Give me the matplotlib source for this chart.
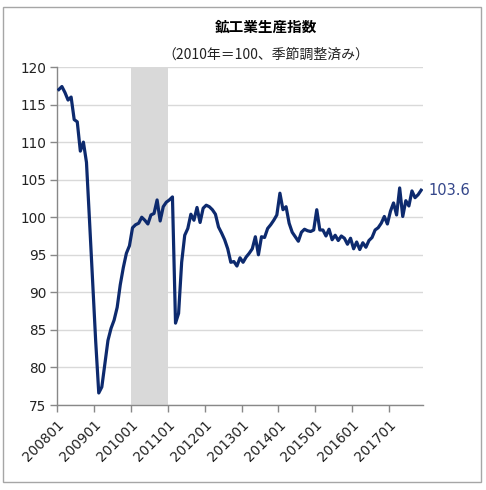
import numpy as np
import matplotlib
matplotlib.use("Agg")
import matplotlib.pyplot as plt
from matplotlib.patches import Rectangle

plt.rcParams['font.family'] = ['DejaVu Sans', 'Noto Sans CJK JP']

# monthly index, 2008-01 .. 2017-11 (2010=100, seasonally adjusted)
y2008 = [117.0, 117.4, 116.6, 115.6, 116.0, 113.0, 112.7, 108.8, 110.0, 107.3, 99.5, 91.5]
y2009 = [83.5, 76.6, 77.4, 80.5, 83.6, 85.2, 86.3, 88.0, 91.0, 93.3, 95.2, 96.2]
y2010 = [98.6, 99.0, 99.2, 100.0, 99.6, 99.1, 100.3, 100.5, 102.3, 99.5, 101.4, 102.0]
y2011 = [102.3, 102.7, 85.9, 87.2, 94.0, 97.6, 98.5, 100.4, 99.6, 101.3, 99.3, 101.2]
y2012 = [101.6, 101.4, 101.0, 100.4, 98.7, 97.9, 97.0, 95.8, 94.0, 94.1, 93.5, 94.6]
y2013 = [94.0, 94.7, 95.2, 95.8, 97.4, 95.0, 97.4, 97.3, 98.5, 99.0, 99.6, 100.3]
y2014 = [103.2, 101.0, 101.4, 99.2, 98.0, 97.4, 96.8, 98.0, 98.4, 98.2, 98.1, 98.3]
y2015 = [101.0, 98.3, 98.3, 97.5, 98.4, 97.0, 97.6, 96.9, 97.5, 97.2, 96.4, 97.2]
y2016 = [95.8, 96.7, 95.7, 96.6, 96.0, 96.9, 97.3, 98.3, 98.6, 99.2, 100.1, 99.1]
y2017 = [100.8, 101.9, 100.3, 103.9, 100.1, 102.2, 101.5, 103.5, 102.6, 103.0, 103.6]

values = y2008 + y2009 + y2010 + y2011 + y2012 + y2013 + y2014 + y2015 + y2016 + y2017
tick_labels = ['200801', '200901', '201001', '201101', '201201',
               '201301', '201401', '201501', '201601', '201701']
shade_start, shade_end = 24, 36   # 2010-01 .. 2010-12

n = len(values)
x = np.arange(n) + 0.5   # points sit between category boundaries, like Excel

fig = plt.figure(figsize=(4.86, 4.90), dpi=100)
ax = fig.add_axes([57.3 / 486, 1 - 405 / 490, (422.7 - 57.3) / 486, (405 - 67) / 490])

ax.axvspan(shade_start, shade_end, color='#d9d9d9', lw=0, zorder=1)
ax.plot(x, values, color='#0d2a6e', lw=2.3, solid_joinstyle='round', zorder=3)

ax.set_xlim(0, n)
ax.set_ylim(75, 120)
ax.set_yticks(np.arange(75, 121, 5))
ax.set_xticks(np.arange(0, n, 12))
ax.set_xticklabels(tick_labels, rotation=45, ha='right', rotation_mode='anchor')
ax.grid(axis='y', color='#d9d9d9', lw=1.0, zorder=0)
ax.set_axisbelow(True)

for s in ['top', 'right']:
    ax.spines[s].set_visible(False)
for s in ['left', 'bottom']:
    ax.spines[s].set_color('#888888')
    ax.spines[s].set_linewidth(1.0)
ax.tick_params(axis='both', color='#888888', length=5, width=1.0,
               labelsize=9.8, labelcolor='#222222')
ax.tick_params(axis='y', pad=3)
ax.tick_params(axis='x', pad=4)

ax.annotate(f'{values[-1]:.1f}', xy=(x[-1], values[-1]), xytext=(5, 0),
            textcoords='offset points', va='center', ha='left',
            fontsize=10.5, color='#34468a', annotation_clip=False)

fig.text(266 / 486, 1 - 27 / 490, '鉱工業生産指数', ha='center', va='center',
         fontsize=10.5, fontweight='bold', family=['Noto Sans CJK JP', 'DejaVu Sans'])
fig.text(266 / 486, 1 - 55 / 490, '（2010年＝100、季節調整済み）', ha='center', va='center',
         fontsize=10, family=['Noto Sans CJK JP', 'DejaVu Sans'], color='#222222')

fig.patches.append(Rectangle((3 / 486, 1 - 482 / 490), 478 / 486, 475 / 490,
                             transform=fig.transFigure, fill=False,
                             edgecolor='#a6a6a6', lw=1.0))

fig.savefig('out.png', dpi=100)
